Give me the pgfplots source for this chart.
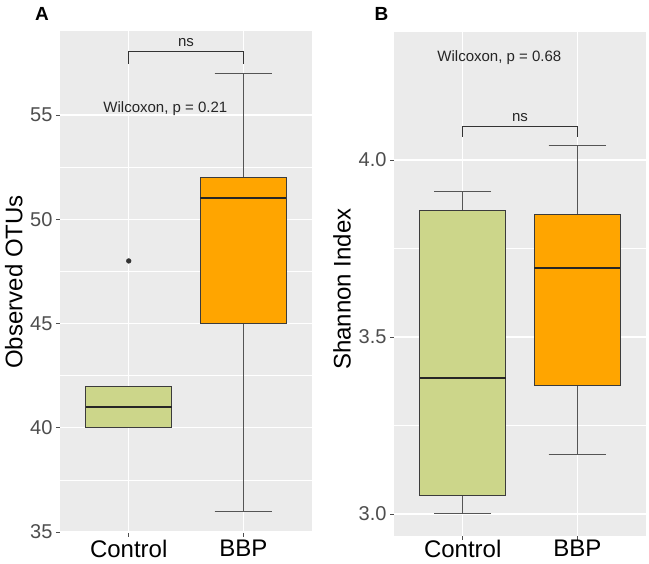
\documentclass[border=0pt]{standalone}
\usepackage{fontspec}
\setmainfont{Liberation Sans}
\usepackage{pgfplots}
\pgfplotsset{compat=1.18}
\usepgfplotslibrary{statistics}
\definecolor{ggbg}{RGB}{235,235,235}
\definecolor{ctrlfill}{RGB}{204,214,138}
\definecolor{bbpfill}{RGB}{255,165,0}
\definecolor{tickgray}{RGB}{77,77,77}
\definecolor{linegray}{RGB}{85,85,85}
\definecolor{edgegray}{RGB}{60,60,60}

\pgfplotsset{ggpanel/.style={
  scale only axis, width=252pt,
  xmin=0.4, xmax=2.6,
  xtick={1,2}, xticklabels={Control,BBP},
  axis background/.style={fill=ggbg},
  axis line style={draw=none},
  xmajorgrids, ymajorgrids, yminorgrids, minor y tick num=1,
  major grid style={white, line width=1.3pt},
  minor grid style={white, line width=0.6pt},
  tick align=outside, xtick pos=bottom, ytick pos=left,
  major tick length=4pt, minor tick length=0pt,
  tick style={tickgray, line width=0.8pt},
  xticklabel style={font=\fontsize{24}{28}\selectfont, text=black,
    inner ysep=0pt, text depth=0pt},
  yticklabel style={font=\fontsize{20}{24}\selectfont, text=tickgray},
  ylabel style={font=\fontsize{24}{28}\selectfont, anchor=center},
  /pgf/number format/assume math mode=true,
  boxplot/draw direction=y,
  boxplot/every median/.style={line width=2pt, draw=black!85},
  boxplot/every whisker/.style={line width=1pt, draw=linegray},
  boxplot/every box/.style={line width=1pt, draw=edgegray},
}}
\newcommand{\statfont}{\fontsize{15}{18}\selectfont}

\begin{document}
\begin{tikzpicture}
\path[use as bounding box] (0,0) rectangle (649pt,564pt);

% Panel A
\begin{axis}[ggpanel,
  at={(60pt,31pt)}, anchor=south west, height=502pt,
  ymin=34.95, ymax=59.03,
  ytick={35,40,45,50,55},
  xticklabel style={yshift=-3pt},
  ylabel={Observed OTUs},
  ylabel style={at={(axis description cs:-0.183,0.5)}},
]
\addplot[fill=ctrlfill, boxplot prepared={lower whisker=40, lower quartile=40,
  median=41, upper quartile=42, upper whisker=42,
  draw position=1, box extend=0.75, whisker extend=0.5}] coordinates {};
\addplot[fill=bbpfill, boxplot prepared={lower whisker=36, lower quartile=45,
  median=51, upper quartile=52, upper whisker=57,
  draw position=2, box extend=0.75, whisker extend=0.5}] coordinates {};
\addplot[only marks, mark=*, mark size=2.4pt, black!80] coordinates {(1,48)};
\draw[line width=0.9pt, black!80] (axis cs:1,57.45) -- (axis cs:1,58.04)
  -- (axis cs:2,58.04) -- (axis cs:2,57.45);
\node[font=\statfont, anchor=base, text=black!85] at (axis cs:1.5,58.28) {ns};
\node[font=\statfont, anchor=base, text=black!85] at (axis cs:1.32,55.13) {Wilcoxon, p = 0.21};
\end{axis}

% Panel B
\begin{axis}[ggpanel,
  at={(394pt,28pt)}, anchor=south west, height=504pt,
  ymin=2.938, ymax=4.362,
  ytick={3.0,3.5,4.0},
  yticklabel style={/pgf/number format/.cd, fixed, fixed zerofill, precision=1},
  ylabel={Shannon Index},
  ylabel style={at={(axis description cs:-0.206,0.49)}},
]
\addplot[fill=ctrlfill, boxplot prepared={lower whisker=3.001, lower quartile=3.052,
  median=3.385, upper quartile=3.859, upper whisker=3.912,
  draw position=1, box extend=0.75, whisker extend=0.5}] coordinates {};
\addplot[fill=bbpfill, boxplot prepared={lower whisker=3.169, lower quartile=3.362,
  median=3.695, upper quartile=3.847, upper whisker=4.042,
  draw position=2, box extend=0.75, whisker extend=0.5}] coordinates {};
\draw[line width=0.9pt, black!80] (axis cs:1,4.066) -- (axis cs:1,4.094)
  -- (axis cs:2,4.094) -- (axis cs:2,4.066);
\node[font=\statfont, anchor=base, text=black!85] at (axis cs:1.5,4.108) {ns};
\node[font=\statfont, anchor=base, text=black!85] at (axis cs:1.32,4.278) {Wilcoxon, p = 0.68};
\end{axis}

\node[font=\fontsize{19}{22}\selectfont\bfseries] at (42pt,550.5pt) {A};
\node[font=\fontsize{19}{22}\selectfont\bfseries] at (381.5pt,550.5pt) {B};
\end{tikzpicture}
\end{document}
